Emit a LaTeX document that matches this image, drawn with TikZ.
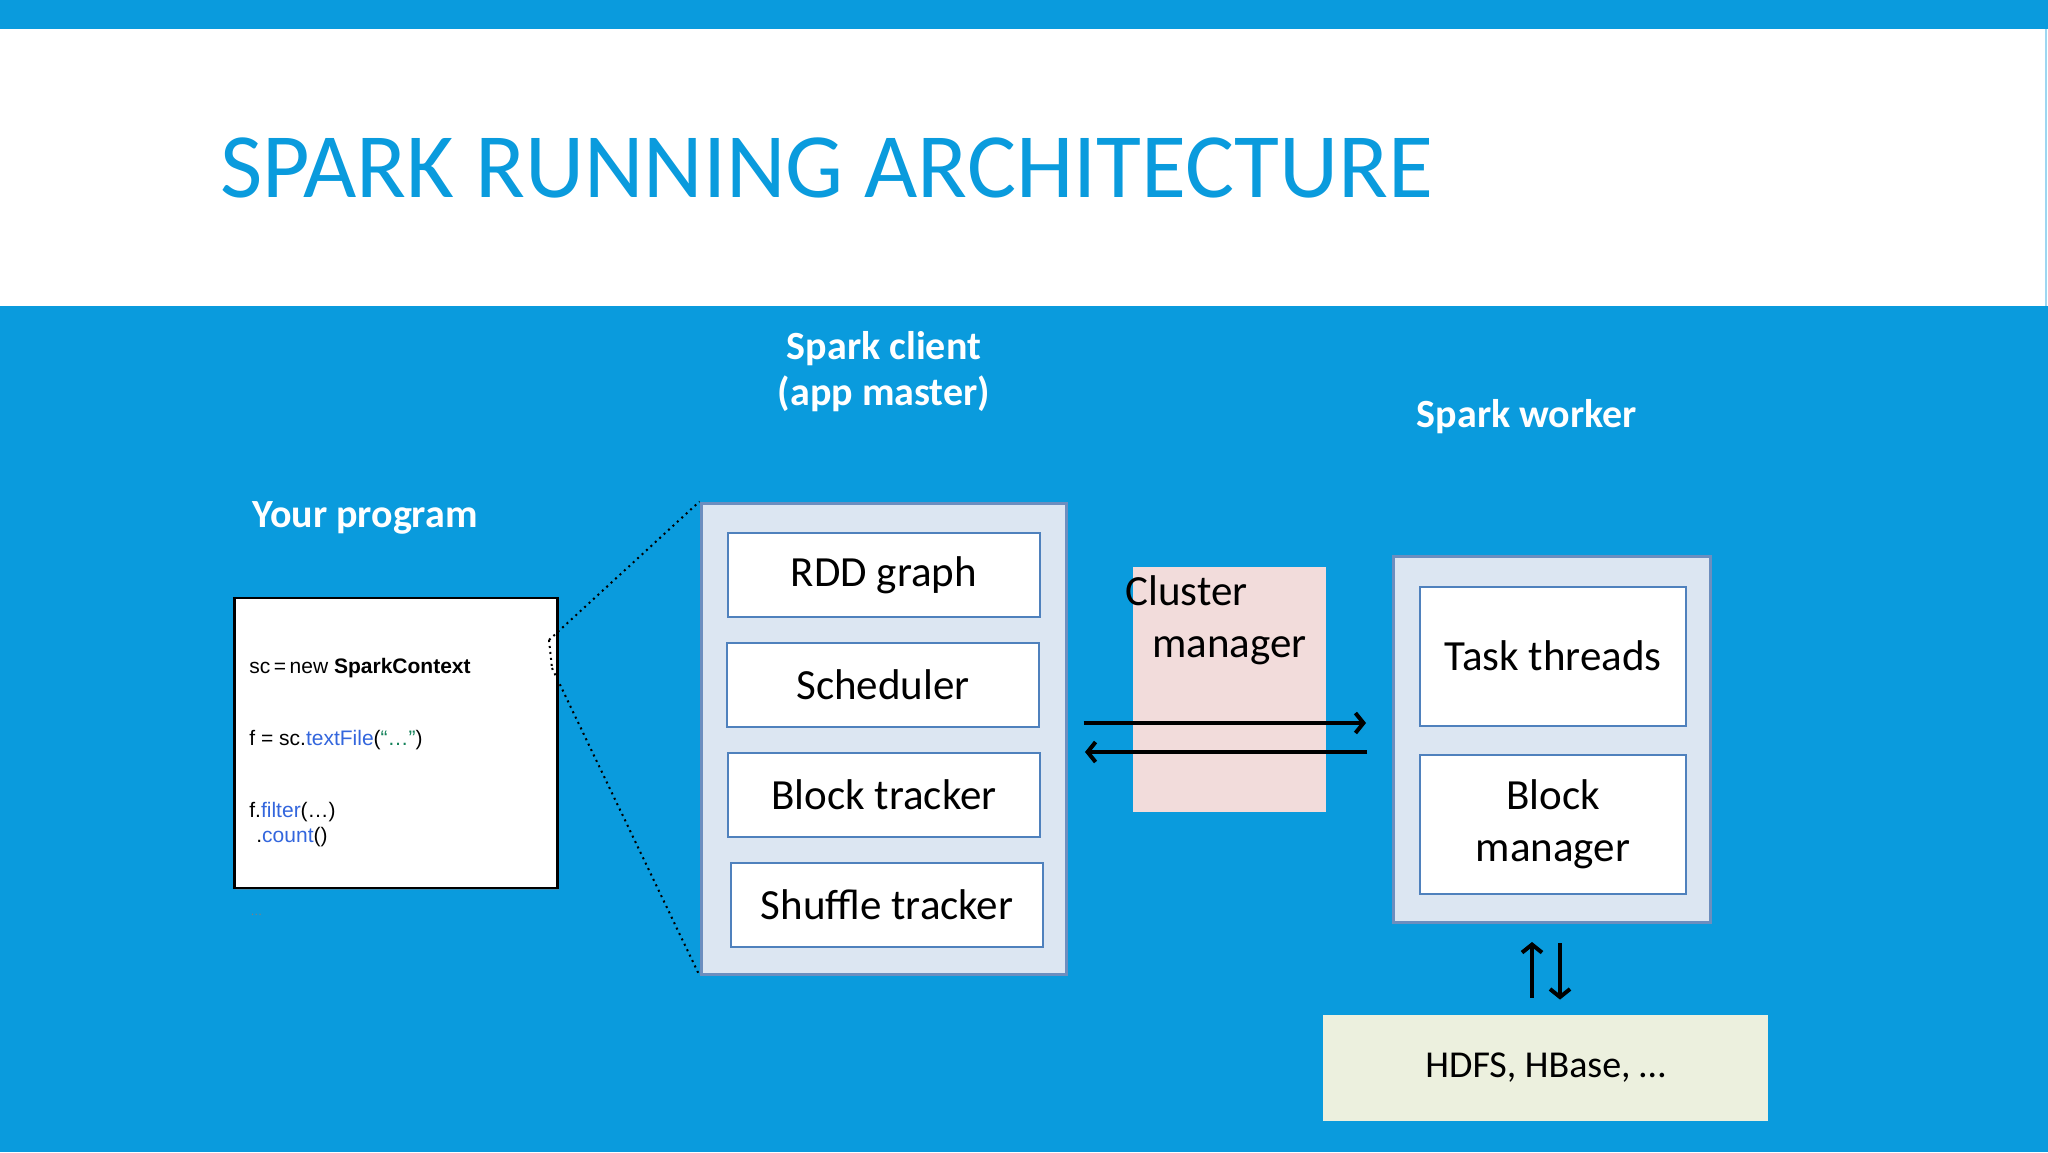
\documentclass[tikz,border=0pt]{standalone}
\usepackage{fontspec}
\setmainfont{Carlito}
\newfontfamily\codefont{Liberation Sans}
\usetikzlibrary{arrows.meta,positioning,shadows}
\definecolor{slideblue}{RGB}{10,155,221}
\definecolor{paleblue}{RGB}{220,230,242}
\definecolor{frameblue}{RGB}{108,142,191}
\definecolor{boxblue}{RGB}{79,129,189}
\definecolor{rosy}{RGB}{242,220,219}
\definecolor{cream}{RGB}{236,240,222}
\definecolor{codeblue}{RGB}{51,102,221}
\definecolor{codegreen}{RGB}{20,130,90}

\tikzset{
  panel/.style={draw=frameblue,line width=1.5pt,fill=paleblue,inner sep=0pt},
  part/.style={draw=boxblue,line width=1pt,fill=white,inner sep=0pt,
    font=\fontsize{21.5}{26}\selectfont,align=center},
  heading/.style={text=white,font=\fontsize{20}{23}\selectfont\bfseries,align=center},
  codeline/.style={anchor=base west,inner sep=0pt,font=\codefont\fontsize{10.5}{12.5}\selectfont},
  flow/.style={line width=2pt,-{Straight Barb[length=4pt,width=10pt]}},
  zoomline/.style={dotted,line width=1pt},
}

\begin{document}
\begin{tikzpicture}[x=0.5pt,y=-0.5pt]
  \useasboundingbox (0,0) rectangle (2048,1152);
  \fill[slideblue] (0,0) rectangle (2048,1152);
  \fill[white] (0,29) rectangle (2048,306);
  \draw[slideblue!40,line width=0.75pt] (2046,29) -- (2046,306);
  \node[anchor=base west,inner sep=0pt,text=slideblue,font=\fontsize{46}{54}\selectfont]
    (title) at (220,197) {SPARK RUNNING ARCHITECTURE};

  % headings
  \node[heading] (clienthead) at (884,372) {Spark client\\(app master)};
  \node[heading,anchor=base] (workerhead) at (1527,427) {Spark worker};
  \node[heading,anchor=base] (proghead) at (365,527) {Your program};

  % user code
  \node[draw=black,line width=1.2pt,fill=white,minimum width=161.5pt,minimum height=145pt,
    drop shadow={shadow xshift=0.6pt,shadow yshift=-1.2pt,opacity=0.4}] (prog) at (396,743) {};
  \node[codeline] (lineA) at (249,673) {sc\,=\,new \textbf{SparkContext}};
  \node[codeline] (lineB) at (249,745) {f = sc.\textcolor{codeblue}{textFile}(\textcolor{codegreen}{“…”})};
  \node[codeline] (lineC) at (249,817) {f.\textcolor{codeblue}{filter}(…)};
  \node[codeline] (lineD) at (256,842) {.\textcolor{codeblue}{count}()};
  \node[codeline,text=gray,font=\codefont\fontsize{6}{7}\selectfont] (more) at (250,915) {…};

  % client
  \node[panel,minimum width=182.5pt,minimum height=235.5pt] (client) at (883.5,738.5) {};
  \foreach \n/\x/\y/\t in {rdd/884/575/RDD graph, sched/883/684.5/Scheduler,
      blocktr/884/794.5/Block tracker, shuffle/887/904.5/Shuffle tracker}
    \node[part,minimum width=156pt,minimum height=42pt] (\n) at (\x,\y) {\t};

  \coordinate (zoomtop) at (549,640);
  \coordinate (zoombot) at (552,668);
  \draw[zoomline] (zoomtop) -- (client.north west);
  \draw[zoomline] (zoombot) -- (client.south west);
  \draw[zoomline] (zoomtop) -- (zoombot);

  % cluster manager
  \node[fill=rosy,minimum width=96.5pt,minimum height=122.5pt,inner sep=0pt] (cluster) at (1229.5,689.5) {};
  \node[anchor=base west,inner sep=0pt,font=\fontsize{21.5}{26}\selectfont] (clusterA) at (1125,605) {Cluster};
  \node[anchor=base west,inner sep=0pt,font=\fontsize{21.5}{26}\selectfont] (clusterB) at (1152,657) {manager};

  % worker
  \node[panel,minimum width=158.5pt,minimum height=183pt] (worker) at (1552,739) {};
  \node[part,minimum width=133pt,minimum height=69.5pt] (task) at (1553,656) {Task threads};
  \node[part,minimum width=133pt,minimum height=69.5pt] (blockmgr) at (1553,824.5) {Block\\manager};

  % storage
  \node[fill=cream,minimum width=222.5pt,minimum height=53pt,
    font=\fontsize{19}{23}\selectfont] (hdfs) at (1545.5,1068) {HDFS, HBase, …};

  % messages
  \draw[flow,shorten <=8pt,shorten >=13pt] ([yshift=7.75pt]client.east) -- ([yshift=7.75pt]client.east -| worker.west);
  \draw[flow,shorten <=12.5pt,shorten >=8.75pt] ([yshift=-6.75pt]client.east -| worker.west) -- ([yshift=-6.75pt]client.east);
  \draw[flow,shorten <=8.5pt,shorten >=9.25pt] ([xshift=-10pt]worker.south |- hdfs.north) -- ([xshift=-10pt]worker.south);
  \draw[flow,shorten <=9.75pt,shorten >=7.5pt] ([xshift=4pt]worker.south) -- ([xshift=4pt]worker.south |- hdfs.north);
\end{tikzpicture}
\end{document}
